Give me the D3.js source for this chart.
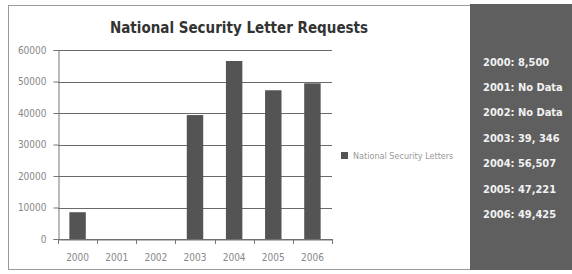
<!DOCTYPE html>
<html><head><meta charset="utf-8">
<script src="https://cdn.jsdelivr.net/npm/d3@7"></script>
<style>body{margin:0;background:#fff}svg{display:block}</style>
</head><body>
<script>
const years = ["2000","2001","2002","2003","2004","2005","2006"];
const requests = [8500, null, null, 39346, 56507, 47221, 49425];
const yTicks = [0,10000,20000,30000,40000,50000,60000];
const panelLines = ["2000: 8,500","2001: No Data","2002: No Data","2003: 39, 346","2004: 56,507","2005: 47,221","2006: 49,425"];
const title = "National Security Letter Requests";
const legendLabel = "National Security Letters";

const W=572,H=274;
const svg=d3.select("body").append("svg").attr("width",W).attr("height",H);
svg.append("rect").attr("x",8.5).attr("y",5.5).attr("width",470).attr("height",264).attr("fill","#fff").attr("stroke","#999").attr("stroke-width",1);
svg.append("rect").attr("x",470).attr("y",4).attr("width",102).attr("height",266).attr("fill","#5f5f5f");

const m={l:58,r:332,t:50,b:239};
const x=d3.scaleBand().domain(years).range([m.l,m.r]).paddingInner(0.58).paddingOuter(0.29);
const xo=d3.scaleBand().domain(years).range([m.l,m.r]);
const y=d3.scaleLinear().domain([0,60000]).range([m.b,m.t]);

const g=svg.append("g");
g.selectAll(".grid").data(yTicks).join("line")
 .attr("x1",m.l).attr("x2",m.r).attr("y1",d=>Math.round(y(d))+0.5).attr("y2",d=>Math.round(y(d))+0.5)
 .attr("stroke","#6a6a6a").attr("stroke-width",1);

g.selectAll(".bar").data(years.map((k,i)=>({k,v:requests[i]})).filter(d=>d.v!=null)).join("rect")
 .attr("x",d=>x(d.k)).attr("width",x.bandwidth()).attr("y",d=>y(d.v)).attr("height",d=>y(0)-y(d.v))
 .attr("fill","#545454");

const ya=d3.axisLeft(y).tickValues(yTicks).tickSize(5).tickPadding(7).tickFormat(d3.format("d"));
const yg=svg.append("g").attr("transform",`translate(${m.l+0.5},0)`).call(ya);
yg.select(".domain").attr("stroke","#777");
yg.selectAll(".tick line").attr("stroke","#777");
yg.selectAll("text").attr("font-family","DejaVu Sans Condensed, sans-serif").attr("font-size",10).attr("fill","#888");

const xa=d3.axisBottom(xo).tickSize(0).tickPadding(14);
const xg=svg.append("g").attr("transform",`translate(0,${m.b+0.5})`).call(xa);
xg.select(".domain").attr("stroke","#777");
xg.selectAll("text").attr("font-family","DejaVu Sans Condensed, sans-serif").attr("font-size",10).attr("fill","#888");
svg.selectAll(".xt").data(years.concat(["end"])).join("line")
 .attr("x1",(d,i)=>Math.round(m.l+i*xo.step())+0.5).attr("x2",(d,i)=>Math.round(m.l+i*xo.step())+0.5)
 .attr("y1",m.b).attr("y2",m.b+5).attr("stroke","#777");

svg.append("text").attr("x",239).attr("y",33).attr("text-anchor","middle")
 .attr("font-family","DejaVu Sans Condensed, sans-serif").attr("font-weight","bold").attr("font-size",15).attr("fill","#333").text(title);

svg.append("rect").attr("x",341).attr("y",152).attr("width",7).attr("height",7).attr("fill","#545454");
svg.append("text").attr("x",353).attr("y",158.5).attr("font-family","DejaVu Sans Condensed, sans-serif").attr("font-size",9).attr("fill","#999").text(legendLabel);

svg.selectAll(".pl").data(panelLines).join("text")
 .attr("x",483).attr("y",(d,i)=>65.5+i*25.4)
 .attr("font-family","DejaVu Sans Condensed, sans-serif").attr("font-weight","bold").attr("font-size",11).attr("fill","#f2f2f2").text(d=>d);
</script>
</body></html>
